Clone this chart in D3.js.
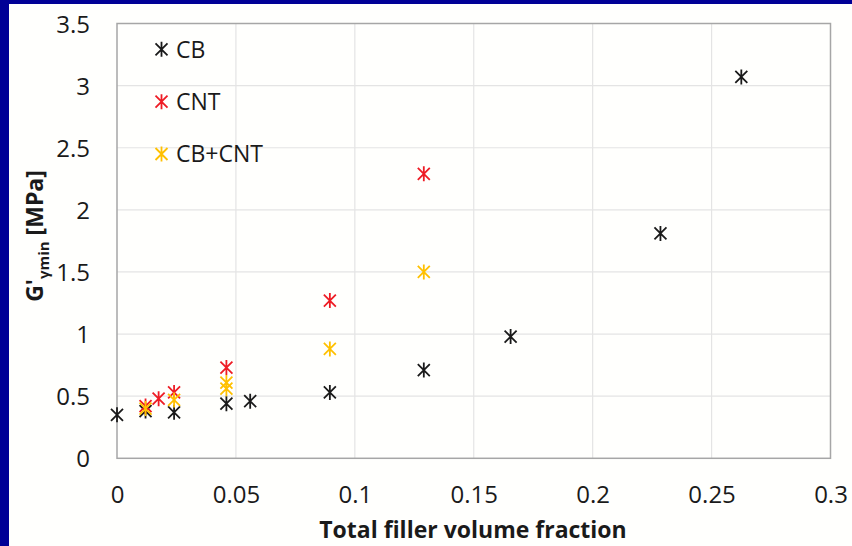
<!DOCTYPE html>
<html>
<head>
<meta charset="utf-8">
<script src="https://cdn.jsdelivr.net/npm/d3@7/dist/d3.min.js"></script>
<style>
  html, body { margin: 0; padding: 0; background: #000096; }
  svg { display: block; }
  text { font-family: "Open Sans", "DejaVu Sans", sans-serif; fill: #1a1a1a; }
</style>
</head>
<body>
<svg id="chart" width="852" height="546"></svg>
<script>
// Storage modulus at minimum strain vs. total filler volume fraction
const cbX      = [0, 0.012, 0.024, 0.046, 0.056, 0.0895, 0.129, 0.1655, 0.2285, 0.2625];
const cbY      = [0.35, 0.38, 0.37, 0.44, 0.46, 0.53, 0.71, 0.98, 1.81, 3.07];
const cntX     = [0.012, 0.0175, 0.024, 0.046, 0.0895, 0.129];
const cntY     = [0.42, 0.48, 0.53, 0.73, 1.27, 2.29];
const hybX     = [0.012, 0.024, 0.046, 0.046, 0.0895, 0.129];
const hybY     = [0.40, 0.47, 0.56, 0.61, 0.88, 1.50];
const xTicks   = [0, 0.05, 0.1, 0.15, 0.2, 0.25, 0.3];
const yTicks   = [0, 0.5, 1, 1.5, 2, 2.5, 3, 3.5];
const seriesNames  = ["CB", "CNT", "CB+CNT"];
const seriesColors = ["#1a1a1a", "#ee1c25", "#ffc000"];

const series = [
  { name: seriesNames[0], color: seriesColors[0], xs: cbX,  ys: cbY  },
  { name: seriesNames[1], color: seriesColors[1], xs: cntX, ys: cntY },
  { name: seriesNames[2], color: seriesColors[2], xs: hybX, ys: hybY }
];

const svg = d3.select("#chart");
const W = 852, H = 546;

// white slide panel inside the blue frame
svg.append("rect").attr("x", 9).attr("y", 4).attr("width", W - 9).attr("height", H - 4)
  .attr("fill", "#fffffd");

const plot = { left: 117, right: 830.5, top: 23.5, bottom: 458.3 };
const x = d3.scaleLinear().domain([0, 0.3]).range([plot.left, plot.right]);
const y = d3.scaleLinear().domain([0, 3.5]).range([plot.bottom, plot.top]);

// gridlines
const grid = svg.append("g");
grid.selectAll(".gx").data(xTicks.slice(1, -1)).join("line")
  .attr("x1", d => x(d)).attr("x2", d => x(d))
  .attr("y1", plot.top).attr("y2", plot.bottom)
  .attr("stroke", "#e4e4e4").attr("stroke-width", 1.2);
grid.selectAll(".gy").data(yTicks.slice(1, -1)).join("line")
  .attr("x1", plot.left).attr("x2", plot.right)
  .attr("y1", d => y(d)).attr("y2", d => y(d))
  .attr("stroke", "#e4e4e4").attr("stroke-width", 1.2);

// plot border
svg.append("rect")
  .attr("x", plot.left).attr("y", plot.top)
  .attr("width", plot.right - plot.left).attr("height", plot.bottom - plot.top)
  .attr("fill", "none").attr("stroke", "#a6a6a6").attr("stroke-width", 1.5);

// axes (labels only)
const xAxis = d3.axisBottom(x).tickValues(xTicks).tickSize(0).tickPadding(0)
  .tickFormat(d => String(+d.toFixed(2)));
const gx = svg.append("g").attr("transform", `translate(0,${plot.bottom})`).call(xAxis);
gx.select(".domain").remove();
gx.selectAll("text").attr("dy", null).attr("y", 45)
  .style("font-size", "24px").style("fill", "#1a1a1a")
  .style("font-family", "'Open Sans', sans-serif");

const yAxis = d3.axisLeft(y).tickValues(yTicks).tickSize(0).tickPadding(0)
  .tickFormat(d => String(d));
const gy = svg.append("g").attr("transform", `translate(${plot.left},0)`).call(yAxis);
gy.select(".domain").remove();
gy.selectAll("text").attr("x", -27).attr("dy", "0.36em")
  .style("font-size", "24px").style("fill", "#1a1a1a")
  .style("font-family", "'Open Sans', sans-serif");

// axis titles
svg.append("text")
  .attr("x", 473).attr("y", 538)
  .attr("text-anchor", "middle")
  .style("font-size", "23px").style("font-weight", "bold")
  .text("Total filler volume fraction");

const yt = svg.append("text")
  .attr("transform", "translate(43,236) rotate(-90)")
  .attr("text-anchor", "middle")
  .style("font-size", "23px").style("font-weight", "bold");
yt.append("tspan").text("G'");
yt.append("tspan").attr("dy", 6).style("font-size", "15px").text("γmin");
yt.append("tspan").attr("dy", -6).text(" [MPa]");

// asterisk marker: X plus vertical stroke
function star(s) {
  return `M${-s},${-s}L${s},${s}M${-s},${s}L${s},${-s}M0,${-s * 1.25}L0,${s * 1.25}`;
}

series.forEach(sr => {
  svg.append("g").selectAll("path")
    .data(sr.xs.map((v, i) => [v, sr.ys[i]]))
    .join("path")
    .attr("transform", d => `translate(${x(d[0])},${y(d[1])})`)
    .attr("d", star(6))
    .attr("fill", "none").attr("stroke", sr.color)
    .attr("stroke-width", 1.8);
});

// legend
const legY = [49.3, 101.7, 154];
series.forEach((sr, i) => {
  svg.append("path")
    .attr("transform", `translate(161.5,${legY[i]})`)
    .attr("d", star(6)).attr("fill", "none")
    .attr("stroke", sr.color).attr("stroke-width", 1.8);
  svg.append("text")
    .attr("x", 176).attr("y", legY[i]).attr("dy", "0.36em")
    .style("font-size", "23px")
    .text(sr.name);
});
</script>
</body>
</html>
